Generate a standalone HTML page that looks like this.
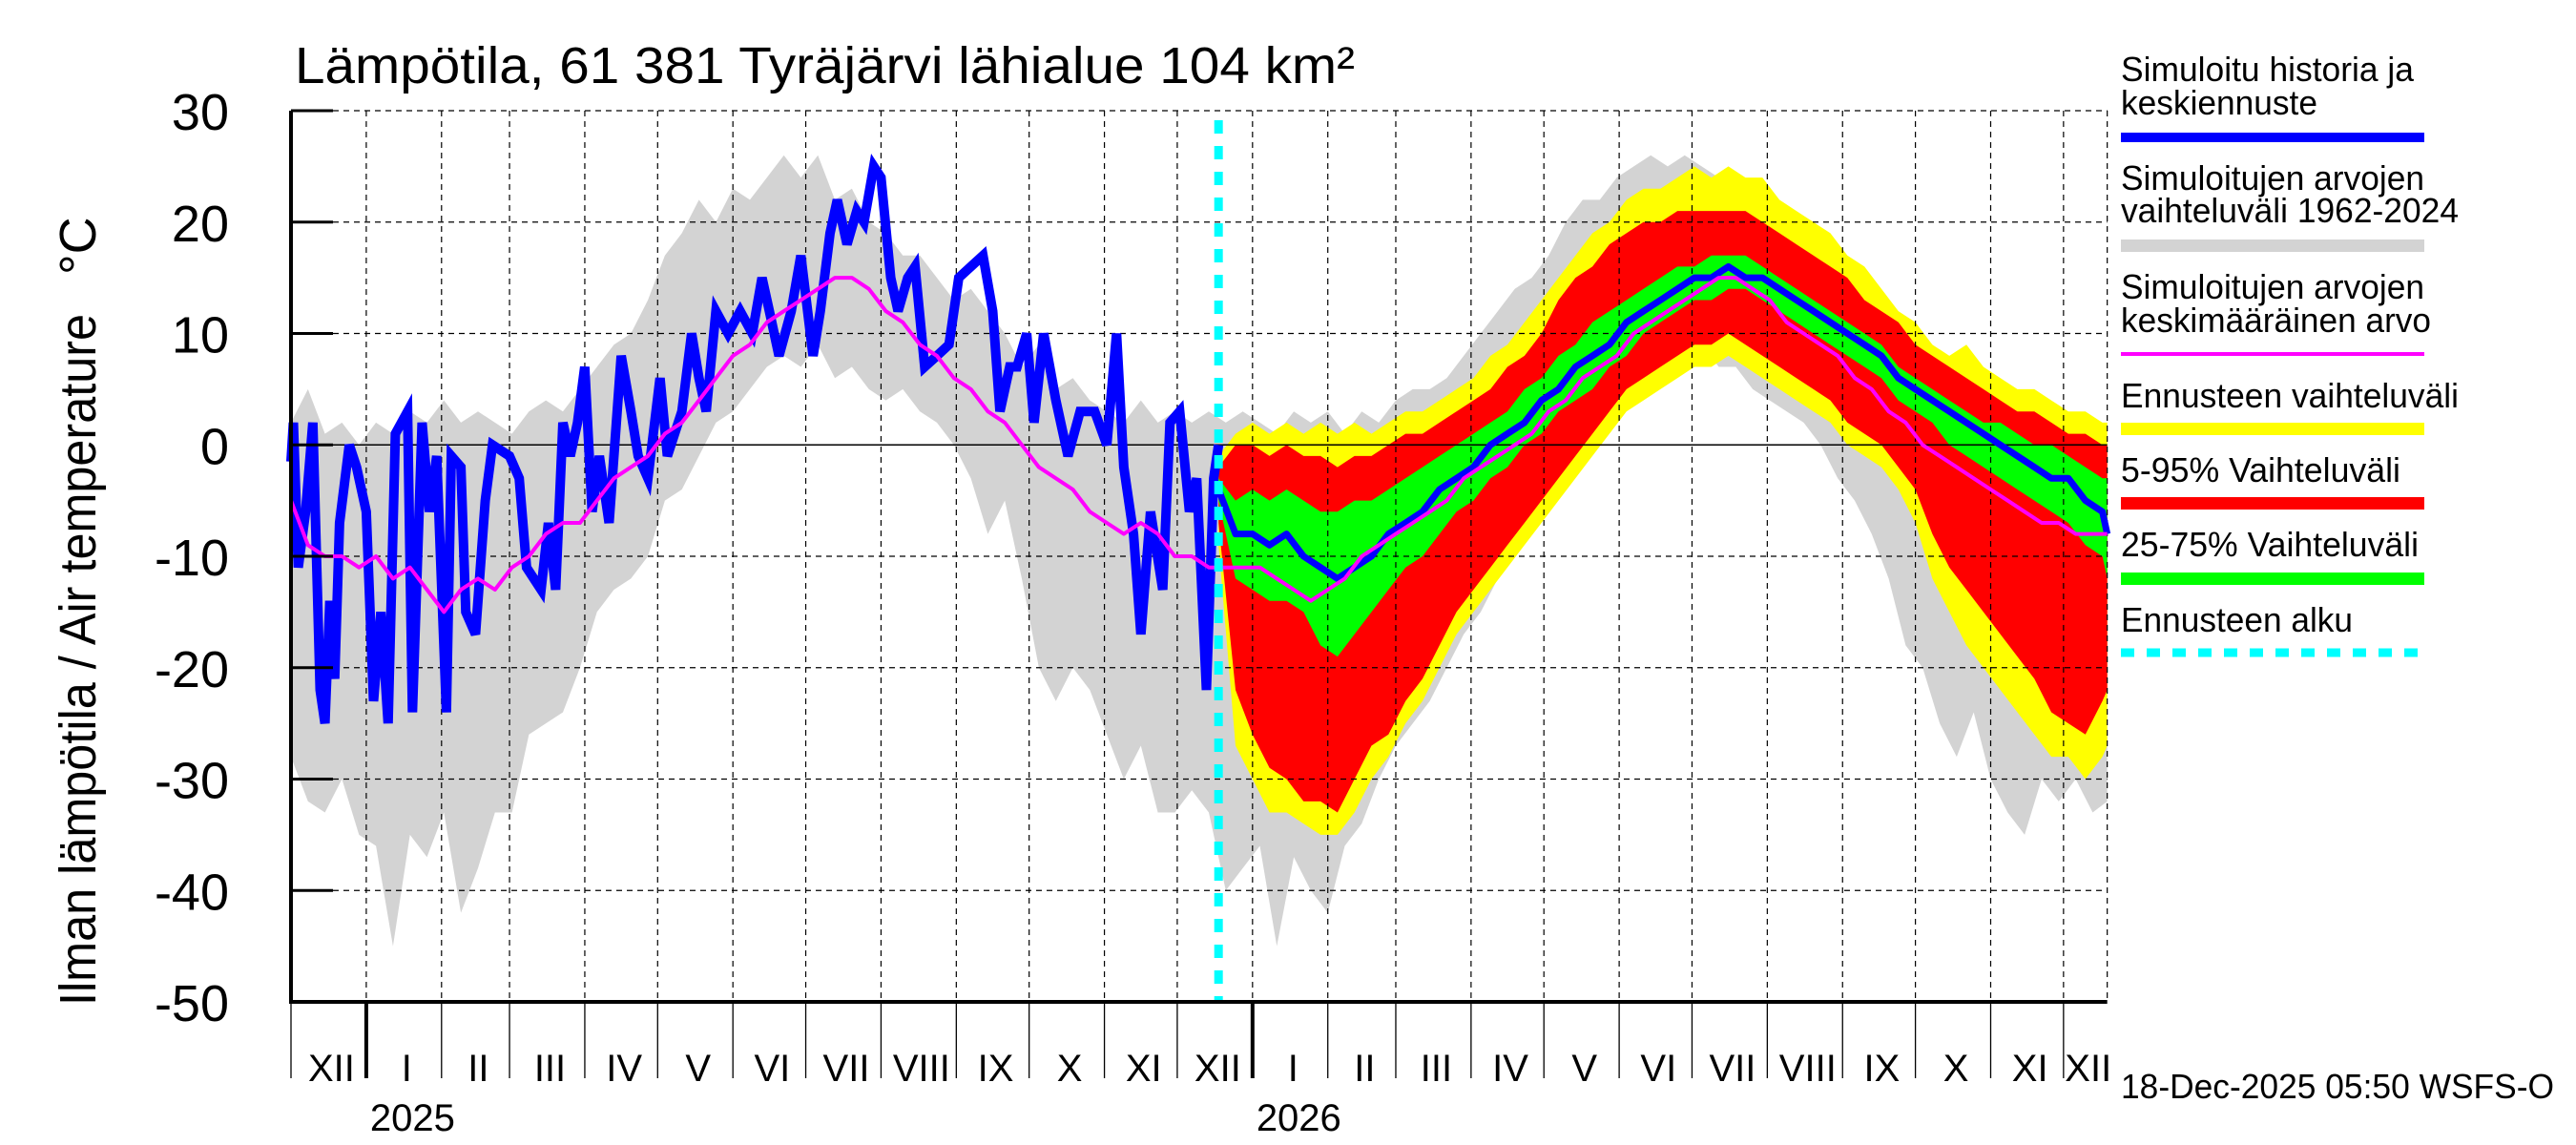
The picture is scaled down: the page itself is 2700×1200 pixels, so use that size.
<!DOCTYPE html>
<html><head><meta charset="utf-8"><title>Lämpötila chart</title>
<style>
html,body{margin:0;padding:0;background:#fff;}
svg{display:block;font-family:"Liberation Sans",Arial,sans-serif;}
</style></head>
<body>
<svg id="chart" width="2700" height="1200" viewBox="0 0 2700 1200" xmlns="http://www.w3.org/2000/svg">
<rect x="0" y="0" width="2700" height="1200" fill="#fff"/>
<g id="bands"></g>
<g id="grid"></g>
<g id="lines"></g>
<g id="axes"></g>
<text x="309" y="87" font-size="54" textLength="1111" lengthAdjust="spacingAndGlyphs">Lämpötila, 61 381 Tyräjärvi lähialue 104 km²</text>
<text transform="translate(100,1054) rotate(-90)" font-size="54" textLength="725" lengthAdjust="spacingAndGlyphs">Ilman lämpötila / Air temperature</text>
<text transform="translate(100,288) rotate(-90)" font-size="54">°C</text>
<g id="legend" font-size="36">
<text x="2223" y="85" textLength="307" lengthAdjust="spacingAndGlyphs">Simuloitu historia ja</text>
<text x="2223" y="120" textLength="206" lengthAdjust="spacingAndGlyphs">keskiennuste</text>
<rect x="2223" y="139" width="318" height="10" fill="#0000ff"/>
<text x="2223" y="199" textLength="318" lengthAdjust="spacingAndGlyphs">Simuloitujen arvojen</text>
<text x="2223" y="233" textLength="354" lengthAdjust="spacingAndGlyphs">vaihteluväli 1962-2024</text>
<rect x="2223" y="251" width="318" height="13" fill="#d3d3d3"/>
<text x="2223" y="313" textLength="318" lengthAdjust="spacingAndGlyphs">Simuloitujen arvojen</text>
<text x="2223" y="348" textLength="325" lengthAdjust="spacingAndGlyphs">keskimääräinen arvo</text>
<rect x="2223" y="369" width="318" height="4" fill="#ff00ff"/>
<text x="2223" y="427" textLength="354" lengthAdjust="spacingAndGlyphs">Ennusteen vaihteluväli</text>
<rect x="2223" y="443" width="318" height="13" fill="#ffff00"/>
<text x="2223" y="505" textLength="293" lengthAdjust="spacingAndGlyphs">5-95% Vaihteluväli</text>
<rect x="2223" y="521" width="318" height="13" fill="#ff0000"/>
<text x="2223" y="583" textLength="312" lengthAdjust="spacingAndGlyphs">25-75% Vaihteluväli</text>
<rect x="2223" y="600" width="318" height="13" fill="#00ff00"/>
<text x="2223" y="662" textLength="243" lengthAdjust="spacingAndGlyphs">Ennusteen alku</text>
<line x1="2223" y1="684" x2="2541" y2="684" stroke="#00ffff" stroke-width="9" stroke-dasharray="14 13"/>
</g>
<text x="2223" y="1151" font-size="36" textLength="454" lengthAdjust="spacingAndGlyphs">18-Dec-2025 05:50 WSFS-O</text>
</svg>
<script>
// ---- data ----
const climWeekStep = 7; // climatology sampled weekly from 1-Dec-2024
const climMax = [2,5,1,2,0,2,1,3,2,4,2,3,2,1,3,4,3,5,7,9,10,13,17,19,22,20,23,22,24,26,24,26,22,23,20,19,17,17,15,13,14,12,10,7,9,5,6,4,3,2,4,2,3,2,3,2,3,2,1,3,2,3,1,3,2,4,5,5,6,8,10,12,14,15,17,20,22,22,24,25,26,25,26,25,24,22,21,19,17,17,16,14,13,12,10,9,8,6,5,4,5,3,4,2,3,2,2,1];
const climMin = [-28,-32,-33,-30,-35,-36,-45,-35,-37,-33,-42,-38,-33,-33,-26,-25,-24,-20,-15,-13,-12,-10,-5,-4,-1,2,3,5,7,8,7,9,6,7,5,4,5,3,2,0,-3,-8,-5,-12,-20,-23,-20,-22,-26,-30,-27,-33,-33,-31,-33,-40,-38,-36,-45,-37,-40,-42,-36,-34,-30,-27,-25,-23,-20,-17,-15,-12,-10,-7,-5,-2,-1,1,2,5,7,7,8,9,7,7,5,4,3,2,0,-3,-5,-8,-12,-18,-20,-25,-28,-24,-30,-33,-35,-30,-32,-30,-33,-32];
const climMean = [-5,-9,-10,-10,-11,-10,-12,-11,-13,-15,-13,-12,-13,-11,-10,-8,-7,-7,-5,-3,-2,-1,1,2,4,6,8,9,11,12,13,14,15,15,14,12,11,9,8,6,5,3,2,0,-2,-3,-4,-6,-7,-8,-7,-8,-10,-10,-11,-11,-11,-11,-12,-13,-14,-13,-12,-10,-9,-8,-7,-6,-5,-3,-2,-1,0,1,3,4,6,7,8,10,11,12,13,14,15,15,14,13,11,10,9,8,6,5,3,2,0,-1,-2,-3,-4,-5,-6,-7,-7,-8,-8,-8];
const histDays = [0,1,3,6,9,12,14,16,18,20,24,27,31,34,37,40,43,48,50,54,57,60,64,66,70,72,76,80,83,90,94,97,103,106,109,112,115,118,121,124,127,131,136,140,143,147,152,155,161,165,168,171,175,180,185,190,194,197,201,206,210,215,218,222,225,229,233,236,240,243,247,250,254,257,261,266,271,275,280,285,289,292,296,299,303,306,310,315,320,325,331,336,340,343,347,350,354,359,362,366,370,373,377,380,382];
const histVals = [-1.5,2,-11,-6,2,-22,-25,-14,-21,-7,0,-2,-6,-23,-15,-25,1,3,-24,2,-6,-1,-24,-1,-2,-15,-17,-5,0,-1,-3,-11,-13,-7,-13,2,-1,2,7,-6,-1,-7,8,3,-1,-3,6,-1,3,10,6,3,12,10,12,10,15,12,8,12,17,8,12,19,22,18,21,20,25,24,15,12,15,16,7,8,9,15,16,17,12,3,7,7,10,2,10,4,-1,3,3,0,10,-2,-8,-17,-6,-13,2,3,-6,-3,-22,-3,0];
const fcDays = [382,389,396,403,410,417,424,431,438,445,452,459,466,473,480,487,494,501,508,515,522,529,536,543,550,557,564,571,578,585,592,599,606,613,620,627,634,641,648,655,662,669,676,683,690,697,704,711,718,725,732,739,746,748];
const fcMax = [-1,1,2,1,2,1,2,1,2,1,2,3,3,4,5,6,8,9,11,13,15,17,19,20,22,23,23,24,25,24,25,24,24,22,21,20,19,17,16,14,12,11,9,8,9,7,6,5,5,4,3,3,2,2];
const fcP95 = [-2,0,0,-1,0,-1,-1,-2,-1,-1,0,1,1,2,3,4,5,7,8,10,13,15,16,18,19,20,20,21,21,21,21,21,20,19,18,17,16,15,13,12,11,9,8,7,6,5,4,3,3,2,1,1,0,0];
const fcP75 = [-3,-5,-4,-5,-4,-5,-6,-6,-5,-5,-4,-3,-2,-1,0,1,2,3,5,6,8,9,11,12,13,14,15,16,16,17,17,17,16,15,14,13,12,11,10,9,7,6,5,4,3,2,2,1,0,0,-1,-2,-3,-3];
const fcMed = [-4,-8,-8,-9,-8,-10,-11,-12,-11,-10,-8,-7,-6,-4,-3,-2,0,1,2,4,5,7,8,9,11,12,13,14,15,15,16,15,15,14,13,12,11,10,9,8,6,5,4,3,2,1,0,-1,-2,-3,-3,-5,-6,-8];
const fcP25 = [-5,-12,-13,-14,-14,-15,-18,-19,-17,-15,-13,-11,-10,-8,-6,-5,-3,-2,0,1,3,4,5,7,8,10,11,12,13,13,14,14,13,12,11,10,9,8,7,6,4,3,2,0,-1,-2,-3,-4,-5,-6,-7,-9,-10,-12];
const fcP05 = [-7,-22,-26,-29,-30,-32,-32,-33,-30,-27,-26,-23,-21,-18,-15,-13,-11,-9,-7,-5,-3,-1,1,3,5,6,7,8,9,9,10,9,8,7,6,5,4,2,1,0,-2,-4,-8,-11,-13,-15,-17,-19,-21,-24,-25,-26,-23,-22];
const fcMin = [-9,-27,-30,-33,-33,-34,-35,-35,-33,-30,-28,-25,-23,-20,-17,-15,-13,-11,-9,-7,-5,-3,-1,1,3,4,5,6,7,7,8,7,6,5,4,3,2,0,-1,-2,-4,-7,-12,-15,-18,-20,-22,-24,-26,-28,-28,-30,-28,-27];
const forecastStartDay = 382;
const yTicks = [30,20,10,0,-10,-20,-30,-40,-50];
const monthNames = ["I","II","III","IV","V","VI","VII","VIII","IX","X","XI","XII"];
const yearLabels = ["2025","2026"];

// ---- axes ----
const X0 = 305, PXDAY = 2.545, DAYS_END = 748;
const Y_TOP = 116, Y_BOT = 1050, VMAX = 30, VMIN = -50;
const xOf = d => X0 + d * PXDAY;
const yOf = v => Y_TOP + (VMAX - v) * (Y_BOT - Y_TOP) / (VMAX - VMIN);
const XR = xOf(DAYS_END);
const NS = "http://www.w3.org/2000/svg";
function mk(tag, attrs, parent) {
  const e = document.createElementNS(NS, tag);
  for (const k in attrs) e.setAttribute(k, attrs[k]);
  parent.appendChild(e);
  return e;
}
const bands = document.getElementById('bands');
const grid = document.getElementById('grid');
const lines = document.getElementById('lines');
const axes = document.getElementById('axes');

function bandPath(days, hi, lo) {
  let d = '';
  for (let i = 0; i < days.length; i++) d += (i ? 'L' : 'M') + xOf(days[i]).toFixed(1) + ' ' + yOf(hi[i]).toFixed(1);
  for (let i = days.length - 1; i >= 0; i--) d += 'L' + xOf(days[i]).toFixed(1) + ' ' + yOf(lo[i]).toFixed(1);
  return d + 'Z';
}
function linePath(days, vals) {
  let d = '';
  for (let i = 0; i < days.length; i++) d += (i ? 'L' : 'M') + xOf(days[i]).toFixed(1) + ' ' + yOf(vals[i]).toFixed(1);
  return d;
}
const climDays = climMax.map((_, i) => Math.min(i * climWeekStep, DAYS_END));

const monthStarts = [];
const base = Date.UTC(2024, 11, 1);
for (let m = 0; m < 26; m++) {
  const dt = Date.UTC(2024, 11 + m, 1);
  const day = Math.round((dt - base) / 86400000);
  if (day > DAYS_END) break;
  monthStarts.push({day: day, month: new Date(dt).getUTCMonth(), year: new Date(dt).getUTCFullYear()});
}
monthStarts.forEach(ms => {
  if (ms.day === 0) return;
  const gl = mk('line', {x1: xOf(ms.day), y1: Y_TOP, x2: xOf(ms.day), y2: Y_BOT, stroke: '#000', 'stroke-width': 1.2, 'stroke-dasharray': '6 5'}, grid);
  
  
});
const rg = mk('line', {x1: XR, y1: Y_TOP, x2: XR, y2: Y_BOT, stroke: '#000', 'stroke-width': 1.2, 'stroke-dasharray': '6 5'}, grid);


yTicks.forEach(v => {
  if (v === VMIN) return;
  const gl = mk('line', {x1: X0, y1: yOf(v), x2: XR, y2: yOf(v), stroke: '#000', 'stroke-width': v === 0 ? 1.6 : 1.2, 'stroke-dasharray': v === 0 ? 'none' : '6 5'}, grid);
  
  
});

const pc = mk('path', {d: bandPath(climDays, climMax, climMin), fill: '#d3d3d3'}, bands);


const py = mk('path', {d: bandPath(fcDays, fcMax, fcMin), fill: '#ffff00'}, bands);


const pr = mk('path', {d: bandPath(fcDays, fcP95, fcP05), fill: '#ff0000'}, bands);


const pg = mk('path', {d: bandPath(fcDays, fcP75, fcP25), fill: '#00ff00'}, bands);



const lm = mk('path', {d: linePath(fcDays, fcMed), fill: 'none', stroke: '#0000ff', 'stroke-width': 7, 'stroke-linejoin': 'round'}, lines);


const lh = mk('path', {d: linePath(histDays, histVals), fill: 'none', stroke: '#0000ff', 'stroke-width': 10, 'stroke-linejoin': 'miter'}, lines);


const lmean = mk('path', {d: linePath(climDays, climMean), fill: 'none', stroke: '#ff00ff', 'stroke-width': 4, 'stroke-linejoin': 'round'}, lines);


const fs = mk('line', {x1: xOf(forecastStartDay), y1: Y_TOP + 10, x2: xOf(forecastStartDay), y2: Y_BOT, stroke: '#00ffff', 'stroke-width': 9, 'stroke-dasharray': '14 13'}, lines);



const ay = mk('line', {x1: X0, y1: Y_TOP, x2: X0, y2: Y_BOT + 2, stroke: '#000', 'stroke-width': 4}, axes);


const ax = mk('line', {x1: X0, y1: Y_BOT, x2: XR, y2: Y_BOT, stroke: '#000', 'stroke-width': 4}, axes);


yTicks.forEach(v => {
  const t = mk('line', {x1: X0, y1: yOf(v), x2: 349, y2: yOf(v), stroke: '#000', 'stroke-width': 3}, axes);
  
  
  const lb = mk('text', {x: 240, y: yOf(v) + 20, 'font-size': 54, 'text-anchor': 'end'}, axes);
  
  
  lb.textContent = String(v);
});
let yi = 0;
monthStarts.forEach((ms, i) => {
  const isYear = ms.month === 0;
  const t = mk('line', {x1: xOf(ms.day), y1: Y_BOT, x2: xOf(ms.day), y2: 1130, stroke: '#000', 'stroke-width': isYear ? 4 : 1.3}, axes);
  
  
  const nextDay = i + 1 < monthStarts.length ? monthStarts[i + 1].day : DAYS_END;
  const lb = mk('text', {x: (xOf(ms.day) + xOf(nextDay)) / 2 + 3, y: 1133, 'font-size': 40, 'text-anchor': 'middle'}, axes);
  
  
  lb.textContent = monthNames[ms.month];
  if (isYear && yi < yearLabels.length) {
    const yl = mk('text', {x: xOf(ms.day) + 4, y: 1185, 'font-size': 40}, axes);
    
    
    yl.textContent = yearLabels[yi++];
  }
});
</script>
</body></html>
